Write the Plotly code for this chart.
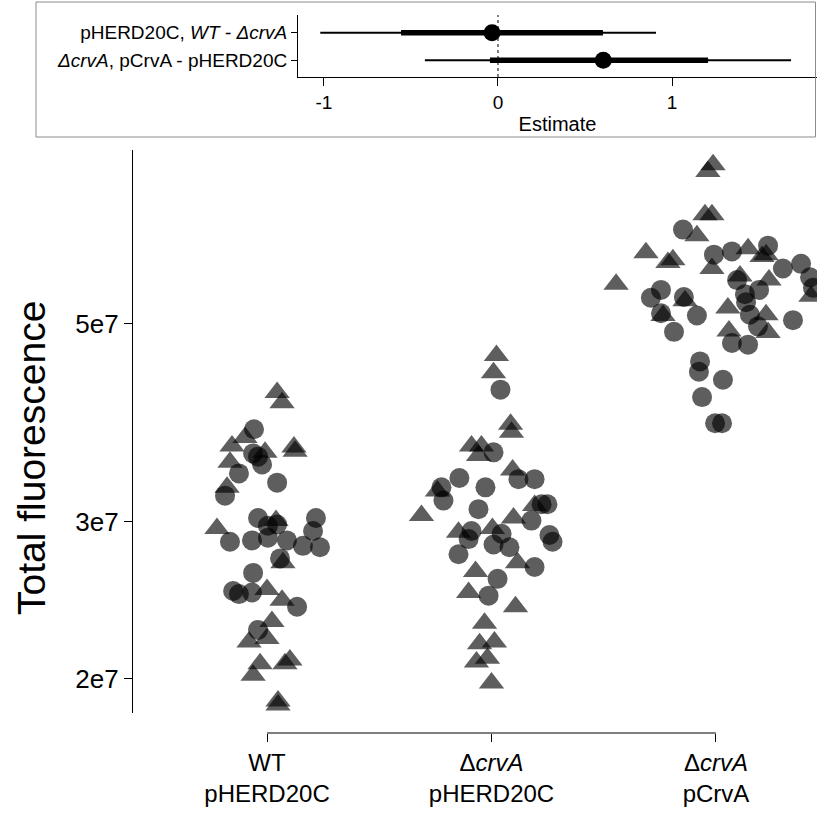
import plotly.graph_objects as go

# ---------------- data ----------------
group_labels = ["WT<br>pHERD20C", "Δ<i>crvA</i><br>pHERD20C", "Δ<i>crvA</i><br>pCrvA"]

# Total fluorescence (x 1e7) and beeswarm offsets (category units)
wt_circle = [3.81, 3.58, 3.55, 3.48, 3.40, 3.32, 3.21, 3.03, 3.03, 2.97, 2.98, 2.85, 2.86,
             2.88, 2.86, 2.93, 2.82, 2.81, 2.73, 2.63, 2.51, 2.49, 2.50, 2.41, 2.27]
wt_circle_off = [-0.058, -0.062, -0.040, -0.022, -0.125, 0.045, -0.187, -0.040, 0.218, 0.004,
                 0.045, -0.165, -0.067, 0.004, 0.089, 0.205, 0.160, 0.236, 0.058, -0.062,
                 -0.151, -0.125, -0.067, 0.134, -0.040]
wt_tri = [4.19, 4.08, 3.73, 3.65, 3.64, 3.60, 3.59, 3.50, 3.28, 2.95, 3.01, 2.70, 2.52, 2.45,
          2.32, 2.20, 2.22, 2.10, 2.08, 2.08, 2.02, 1.89, 1.87]
wt_tri_off = [0.045, 0.067, -0.098, -0.156, 0.120, 0.125, -0.009, -0.165, -0.178, -0.223,
              0.040, 0.071, 0.0, 0.067, 0.022, -0.080, 0.0, 0.102, 0.080, -0.031, -0.062,
              0.049, 0.049]

del_circle = [4.22, 3.59, 3.36, 3.35, 3.35, 3.28, 3.28, 3.17, 3.14, 3.14, 3.10, 3.01, 2.93,
              2.87, 2.91, 2.83, 2.81, 2.90, 2.85, 2.76, 2.67, 2.59, 2.48]
del_circle_off = [0.040, 0.009, -0.143, 0.120, 0.192, -0.027, -0.223, -0.214, 0.223, 0.249,
                  -0.058, 0.178, -0.089, -0.102, 0.045, 0.009, 0.080, 0.258, 0.272, -0.147,
                  0.192, 0.027, -0.013]
del_tri = [4.61, 4.41, 3.86, 3.78, 3.65, 3.65, 3.56, 3.43, 3.25, 3.13, 3.05, 3.03, 2.92, 2.95,
           2.70, 2.64, 2.50, 2.41, 2.31, 2.19, 2.20, 2.09, 2.11, 1.98]
del_tri_off = [0.022, 0.009, 0.085, 0.089, -0.089, -0.045, -0.058, 0.094, -0.241, 0.192,
               -0.312, 0.098, -0.147, 0.004, 0.116, -0.071, -0.102, 0.107, -0.031, -0.053,
               0.013, -0.067, -0.018, 0.0]

crva_circle = [6.38, 5.98, 6.03, 6.12, 5.77, 5.84, 5.60, 5.64, 5.49, 5.46, 5.35, 5.36, 5.46,
               5.40, 5.29, 5.12, 5.14, 5.11, 4.90, 4.97, 5.05, 4.76, 4.74, 4.54, 4.42, 4.33,
               4.14, 3.87, 3.87]
crva_circle_off = [-0.147, -0.009, 0.071, 0.232, 0.298, 0.379, 0.094, 0.419, 0.432, -0.245,
                   -0.290, -0.143, 0.192, 0.129, 0.134, 0.151, -0.245, -0.085, -0.187, 0.187,
                   0.343, 0.071, 0.143, -0.071, -0.076, 0.031, -0.062, -0.004, 0.027]
crva_tri = [7.54, 7.41, 6.63, 6.63, 6.28, 6.01, 5.90, 5.86, 6.07, 5.95, 5.98, 5.77, 5.66,
            5.60, 5.54, 5.31, 5.21, 5.12, 5.11, 4.91, 4.89, 5.37]
crva_tri_off = [-0.013, -0.036, -0.049, -0.018, -0.085, -0.312, -0.192, -0.214, 0.143, 0.205,
                0.223, -0.018, 0.107, 0.236, -0.445, -0.138, 0.053, 0.223, -0.236, 0.058,
                0.232, 0.423]

y_tickvals = [2e7, 3e7, 5e7]
y_ticktext = ["2e7", "3e7", "5e7"]

# contrast estimates (inset)
contrasts = ["pHERD20C, <i>WT - ΔcrvA</i>", "<i>ΔcrvA</i>, pCrvA - pHERD20C"]
est = [-0.034, 0.605]
ci95_lo = [-1.021, -0.420]
ci95_hi = [0.908, 1.684]
ci66_lo = [-0.557, -0.046]
ci66_hi = [0.603, 1.207]
est_ticks = [-1, 0, 1]

# ---------------- figure ----------------
W, H = 817, 820
FONT = "Liberation Sans, Arial, Helvetica, sans-serif"
PT_COLOR = "rgba(0,0,0,0.63)"

fig = go.Figure()

circ_x, circ_y, tri_x, tri_y = [], [], [], []
for gi, (cv, co, tv, to) in enumerate([
        (wt_circle, wt_circle_off, wt_tri, wt_tri_off),
        (del_circle, del_circle_off, del_tri, del_tri_off),
        (crva_circle, crva_circle_off, crva_tri, crva_tri_off)]):
    circ_x += [gi + o for o in co]
    circ_y += [v * 1e7 for v in cv]
    tri_x += [gi + o for o in to]
    tri_y += [v * 1e7 for v in tv]

fig.add_trace(go.Scatter(x=circ_x, y=circ_y, mode="markers", xaxis="x", yaxis="y",
                         marker=dict(symbol="circle", size=20, color=PT_COLOR,
                                     line=dict(width=0)), showlegend=False))
fig.add_trace(go.Scatter(x=tri_x, y=tri_y, mode="markers", xaxis="x", yaxis="y",
                         marker=dict(symbol="triangle-up", size=22, color=PT_COLOR,
                                     line=dict(width=0)), showlegend=False))

# inset: rows, top row = 1
rows = [1, 0]
for i, r in enumerate(rows):
    fig.add_trace(go.Scatter(x=[ci95_lo[i], ci95_hi[i]], y=[r, r], mode="lines",
                             xaxis="x2", yaxis="y2", line=dict(color="black", width=2),
                             showlegend=False))
    fig.add_trace(go.Scatter(x=[ci66_lo[i], ci66_hi[i]], y=[r, r], mode="lines",
                             xaxis="x2", yaxis="y2", line=dict(color="black", width=5.5),
                             showlegend=False))
fig.add_trace(go.Scatter(x=est, y=rows, mode="markers", xaxis="x2", yaxis="y2",
                         marker=dict(color="black", size=17), showlegend=False))

def py(p):
    return 1 - p / H

def px(p):
    return p / W

fig.update_layout(
    width=W, height=H, margin=dict(l=0, r=0, t=0, b=0),
    paper_bgcolor="white", plot_bgcolor="white",
    font=dict(family=FONT, color="black"),
    xaxis=dict(domain=[px(133), 1], range=[-0.597, 2.45], anchor="free", position=py(733),
               tickvals=[0, 1, 2], ticktext=group_labels, ticks="outside", ticklen=8,
               tickwidth=1.2, tickcolor="black", showline=False, showgrid=False,
               zeroline=False, tickfont=dict(size=24)),
    yaxis=dict(domain=[py(713), py(150)], type="log", range=[7.2629, 7.8940],
               tickvals=y_tickvals, ticktext=y_ticktext, ticks="outside", ticklen=8,
               tickwidth=1.2, tickcolor="black", showline=True, linecolor="black",
               linewidth=1.2, showgrid=False, zeroline=False, tickfont=dict(size=26)),
    xaxis2=dict(domain=[px(298), 1], range=[-1.149, 1.833], anchor="y2",
                tickvals=est_ticks, ticktext=[str(t) for t in est_ticks], ticks="outside",
                ticklen=8, tickcolor="black", showline=True, linecolor="black",
                linewidth=1, showgrid=False, zeroline=False, tickfont=dict(size=19),
                title=dict(text="Estimate", font=dict(size=20), standoff=5)),
    yaxis2=dict(domain=[py(77), py(15)], range=[-0.607, 1.643], anchor="x2",
                tickvals=rows, ticktext=contrasts, ticks="outside", ticklen=6,
                tickcolor="black", showline=True, linecolor="black", linewidth=1,
                showgrid=False, zeroline=False, tickfont=dict(size=19)),
    shapes=[
        dict(type="rect", xref="paper", yref="paper", x0=px(36), x1=px(815.5),
             y0=py(137), y1=py(2), line=dict(color="#8c8c8c", width=1)),
        dict(type="line", xref="x", yref="paper", x0=0, x1=2, y0=py(733), y1=py(733),
             line=dict(color="black", width=1.2)),
        dict(type="line", xref="x2", yref="y2 domain", x0=0, x1=0, y0=0, y1=1,
             line=dict(color="black", width=1, dash="dot")),
    ],
    annotations=[
        dict(text="Total fluorescence", xref="paper", yref="paper", x=px(31), y=py(458),
             showarrow=False, textangle=-90, font=dict(size=39), xanchor="center",
             yanchor="middle"),
    ],
)

fig.write_html("out.html")
